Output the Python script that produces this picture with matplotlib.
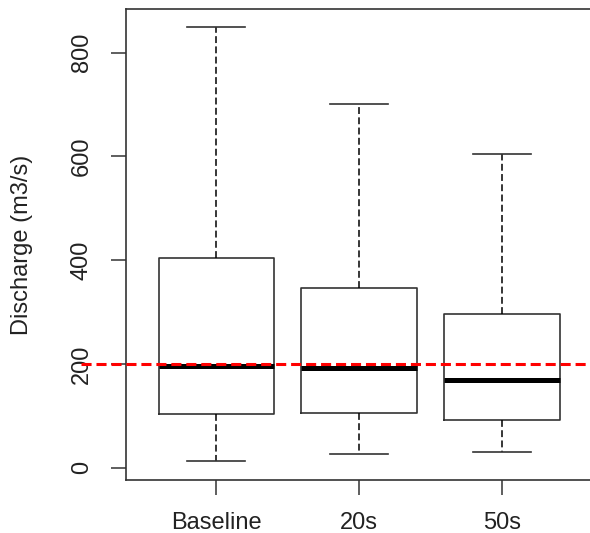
import matplotlib
matplotlib.use("Agg")
import matplotlib.pyplot as plt

# ── Data ──────────────────────────────────────────────────────────────────────
groups = ["Baseline", "20s", "50s"]
whisker_low = [12, 26, 31]
q1 = [104, 106, 92]
median = [196, 193, 170]
q3 = [404, 346, 296]
whisker_high = [849, 701, 604]
threshold = 200
y_ticks = [0, 200, 400, 600, 800]

plt.rcParams["font.family"] = ["Liberation Sans", "DejaVu Sans"]

fig = plt.figure(figsize=(5.9, 5.33), dpi=100)
ax = fig.add_axes([0.2136, 0.0994, 0.79, 0.8832])

stats = []
for i, name in enumerate(groups):
    stats.append({
        "label": name,
        "whislo": whisker_low[i],
        "q1": q1[i],
        "med": median[i],
        "q3": q3[i],
        "whishi": whisker_high[i],
        "fliers": [],
    })

edge = "#333333"
ax.bxp(
    stats,
    positions=range(1, len(groups) + 1),
    widths=0.81,
    showfliers=False,
    boxprops=dict(color=edge, linewidth=1.2),
    medianprops=dict(color="black", linewidth=3.6, solid_capstyle="butt"),
    whiskerprops=dict(color="black", linewidth=1.1, linestyle=(0, (4.5, 2.2))),
    capprops=dict(color=edge, linewidth=1.2),
    capwidths=0.405,
)

ax.set_xlim(0.367, 3.633)
ax.set_ylim(-23.7, 883.6)

# red reference line, runs out past the left axis like the original
ax.plot([0.05, 3.7], [threshold, threshold], color="red", linewidth=2.2,
        linestyle=(0, (3.3, 1.6)), clip_on=False, zorder=5)

ax.set_yticks(y_ticks)
ax.set_yticklabels([str(v) for v in y_ticks], rotation=90, va="center")
ax.set_xticks(range(1, len(groups) + 1))
ax.set_xticklabels(groups)
ax.tick_params(axis="both", length=11, width=1.1, color=edge, labelsize=17,
               labelcolor="#222222")
ax.tick_params(axis="y", pad=13)
ax.tick_params(axis="x", pad=12)
ax.set_ylabel("Discharge (m3/s)", fontsize=17, color="#222222", labelpad=27)

for side in ["left", "bottom", "top", "right"]:
    ax.spines[side].set_color(edge)
    ax.spines[side].set_linewidth(1.2)

plt.savefig("out.png", dpi=100)
